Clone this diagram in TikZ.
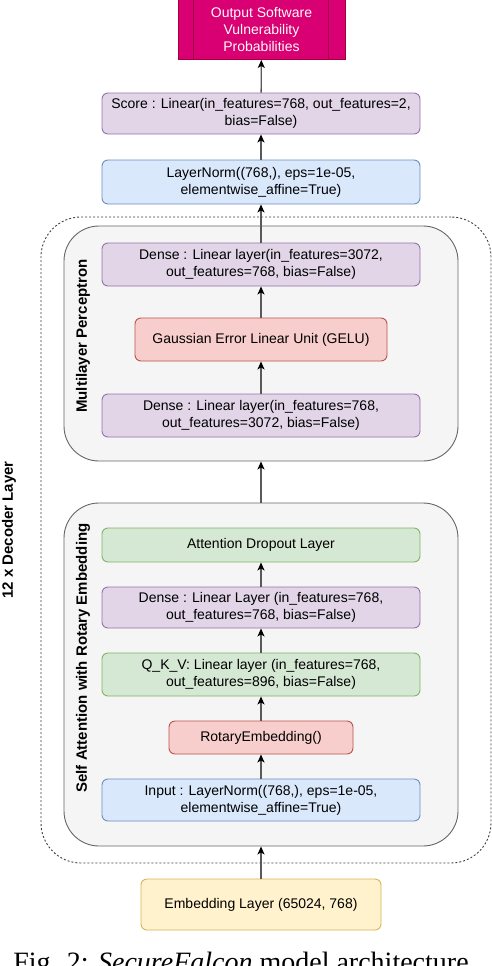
\documentclass[tikz,border=0pt]{standalone}
\usepackage{fontspec}
\setmainfont{Liberation Sans}
\newfontfamily\capfont{Liberation Serif}
\usetikzlibrary{shapes.geometric, arrows.meta}
\definecolor{outfill}{HTML}{D80073}
\definecolor{outdraw}{HTML}{A50040}
\definecolor{purfill}{HTML}{E1D5E7}
\definecolor{purline}{HTML}{9673A6}
\definecolor{blufill}{HTML}{DAE8FC}
\definecolor{bluline}{HTML}{6C8EBF}
\definecolor{grnfill}{HTML}{D5E8D4}
\definecolor{grnline}{HTML}{82B366}
\definecolor{redfill}{HTML}{F8CECC}
\definecolor{redline}{HTML}{B85450}
\definecolor{yelfill}{HTML}{FFF2CC}
\definecolor{yelline}{HTML}{D6B656}
\definecolor{grpfill}{HTML}{F5F5F5}
\definecolor{grpline}{HTML}{666666}
\tikzstyle{layer} = [rectangle, rounded corners=6pt, inner sep=0pt, line width=0.9pt, align=center, font=\fontsize{14}{17}\selectfont]
\tikzstyle{purplebox} = [layer, fill=purfill, draw=purline]
\tikzstyle{bluebox} = [layer, fill=blufill, draw=bluline]
\tikzstyle{greenbox} = [layer, fill=grnfill, draw=grnline]
\tikzstyle{redbox} = [layer, fill=redfill, draw=redline]
\tikzstyle{yellowbox} = [layer, fill=yelfill, draw=yelline]
\tikzstyle{output} = [rectangle, inner sep=0pt, line width=0.9pt, align=center, fill=outfill, draw=outdraw, text=white!92!pink, font=\fontsize{14}{17}\selectfont]
\tikzstyle{group} = [rectangle, rounded corners=35pt, inner sep=0pt, line width=0.9pt, fill=grpfill, draw=grpline]
\tikzstyle{repeatbox} = [rectangle, rounded corners=40pt, inner sep=0pt, line width=0.9pt, draw=black!75, dash pattern=on 2pt off 2pt]
\tikzstyle{grouplabel} = [rotate=90, font=\fontsize{15}{18}\selectfont\bfseries]
\tikzstyle{arrow} = [line width=1.3pt, draw=black!65, -{Stealth[length=8pt, width=7pt, inset=2pt, black]}]

\begin{document}
\begin{tikzpicture}[x=1pt, y=-1pt]
    \useasboundingbox (0,0) rectangle (492,966);

    % decoder block and its two sub-blocks
    \node [repeatbox, minimum width=450pt, minimum height=646pt] at (266,540) (decoder) {};
    \node [grouplabel] at (9,530) (decoderlabel) {12 x Decoder Layer};
    \node [group, minimum width=394pt, minimum height=235pt] at (261,343.5) (mlp) {};
    \node [grouplabel] at (83,336) (mlplabel) {Multilayer Perceptron};
    \node [group, minimum width=394pt, minimum height=343pt] at (261,674.5) (attn) {};
    \node [grouplabel] at (83,658) (attnlabel) {Self Attention with Rotary Embedding};

    % layers
    \node [output, minimum width=167pt, minimum height=60pt] at (261.5,29.5) (result) {Output Software\\Vulnerability\\Probabilities};
    \node [purplebox, minimum width=318pt, minimum height=41pt] at (261,113.5) (score) {Score : Linear(in\_features=768, out\_features=2,\\bias=False)};
    \node [bluebox, minimum width=318pt, minimum height=44pt] at (261,182) (finalnorm) {LayerNorm((768,), eps=1e-05,\\elementwise\_affine=True)};
    \node [purplebox, minimum width=318pt, minimum height=43pt] at (261,264.5) (mlpout) {Dense : Linear layer(in\_features=3072,\\out\_features=768, bias=False)};
    \node [redbox, minimum width=252pt, minimum height=43pt] at (261,339.5) (gelu) {Gaussian Error Linear Unit (GELU)};
    \node [purplebox, minimum width=318pt, minimum height=43pt] at (261,415.5) (mlpin) {Dense : Linear layer(in\_features=768,\\out\_features=3072, bias=False)};
    \node [greenbox, minimum width=318pt, minimum height=34pt] at (261,545) (dropout) {Attention Dropout Layer};
    \node [purplebox, minimum width=318pt, minimum height=41pt] at (261,607.5) (attnout) {Dense : Linear Layer (in\_features=768,\\out\_features=768, bias=False)};
    \node [greenbox, minimum width=318pt, minimum height=43pt] at (261,674.5) (qkv) {Q\_K\_V: Linear layer (in\_features=768,\\out\_features=896, bias=False)};
    \node [redbox, minimum width=184pt, minimum height=33pt] at (261,737.5) (rotary) {RotaryEmbedding()};
    \node [bluebox, minimum width=318pt, minimum height=42pt] at (261,800) (inputnorm) {Input : LayerNorm((768,), eps=1e-05,\\elementwise\_affine=True)};
    \node [yellowbox, minimum width=240pt, minimum height=51pt] at (261,904.5) (embedding) {Embedding Layer (65024, 768)};

    % side bars of the output box
    \draw [outdraw, line width=0.9pt] ([xshift=16pt]result.north west) -- ([xshift=16pt]result.south west);
    \draw [outdraw, line width=0.9pt] ([xshift=-17pt]result.north east) -- ([xshift=-17pt]result.south east);

    \draw [arrow] (embedding) -- (attn);
    \draw [arrow] (inputnorm) -- (rotary);
    \draw [arrow] (rotary) -- (qkv);
    \draw [arrow] (qkv) -- (attnout);
    \draw [arrow] (attnout) -- (dropout);
    \draw [arrow] (attn) -- (mlp);
    \draw [arrow] (mlpin) -- (gelu);
    \draw [arrow] (gelu) -- (mlpout);
    \draw [arrow] (mlpout) -- (finalnorm);
    \draw [arrow] (finalnorm) -- (score);
    \draw [arrow] (score) -- (result);

    \node [anchor=base, font=\fontsize{28}{32}\selectfont\capfont] at (241,971.5) (caption) {Fig. 2: \textit{SecureFalcon} model architecture};
\end{tikzpicture}
\end{document}
